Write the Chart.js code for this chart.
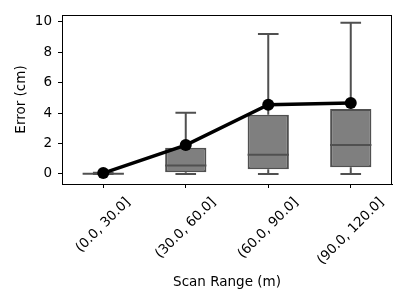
<!DOCTYPE html>
<html>
<head>
<meta charset="utf-8">
<script src="https://cdn.jsdelivr.net/npm/chart.js@4/dist/chart.umd.min.js"></script>
<style>
    body { margin: 0; background: #ffffff; }
    canvas { display: block; }
</style>
</head>
<body>
<canvas id="boxChart" width="407" height="305"></canvas>
<script>
// =====================================
// Data
// =====================================

const categories = ["(0.0, 30.0]", "(30.0, 60.0]", "(60.0, 90.0]", "(90.0, 120.0]"];

const whiskerLow = [0, 0, 0, 0];
const q1 = [0, 0.11, 0.31, 0.44];
const median = [0.02, 0.55, 1.27, 1.9];
const q3 = [0.06, 1.73, 3.89, 4.28];
const whiskerHigh = [0.08, 4.02, 9.21, 9.95];
const means = [0.06, 1.9, 4.56, 4.67];

const yTicks = [0, 2, 4, 6, 8, 10];

const FONT = "'DejaVu Sans', sans-serif";
const EDGE = "#505050";

// =====================================
// Box plot pieces drawn through the scales
// =====================================

const boxPlugin = {
    id: "boxParts",

    // whiskers sit under the boxes
    beforeDatasetsDraw(chart) {
        const ctx = chart.ctx;
        const x = chart.scales.x;
        const y = chart.scales.y;
        const meta = chart.getDatasetMeta(0);

        ctx.save();
        ctx.strokeStyle = EDGE;
        ctx.lineWidth = 2;

        categories.forEach((c, i) => {
            const px = x.getPixelForValue(i);
            const capHalf = meta.data[i].width / 4;

            ctx.beginPath();
            ctx.moveTo(px, y.getPixelForValue(q3[i]));
            ctx.lineTo(px, y.getPixelForValue(whiskerHigh[i]));
            ctx.moveTo(px, y.getPixelForValue(q1[i]));
            ctx.lineTo(px, y.getPixelForValue(whiskerLow[i]));

            ctx.moveTo(px - capHalf, y.getPixelForValue(whiskerHigh[i]));
            ctx.lineTo(px + capHalf, y.getPixelForValue(whiskerHigh[i]));
            ctx.moveTo(px - capHalf, y.getPixelForValue(whiskerLow[i]));
            ctx.lineTo(px + capHalf, y.getPixelForValue(whiskerLow[i]));
            ctx.stroke();
        });

        ctx.restore();
    },

    // medians go on top of the boxes, before the mean line
    afterDatasetDraw(chart, args) {
        if (args.index !== 0) return;

        const ctx = chart.ctx;
        const x = chart.scales.x;
        const y = chart.scales.y;
        const meta = chart.getDatasetMeta(0);

        ctx.save();
        ctx.strokeStyle = EDGE;
        ctx.lineWidth = 2;

        categories.forEach((c, i) => {
            const px = x.getPixelForValue(i);
            const half = meta.data[i].width / 2;
            const py = y.getPixelForValue(median[i]);

            ctx.beginPath();
            ctx.moveTo(px - half, py);
            ctx.lineTo(px + half, py);
            ctx.stroke();
        });

        ctx.restore();
    },

    afterDraw(chart) {
        const ctx = chart.ctx;
        const area = chart.chartArea;
        const x = chart.scales.x;

        ctx.save();

        // frame round the plot
        ctx.strokeStyle = "#000000";
        ctx.lineWidth = 1;
        ctx.strokeRect(area.left + 0.5, area.top + 0.5,
            area.right - area.left - 1, area.bottom - area.top);

        // rotated category labels, centred on their ticks
        ctx.font = "13.5px " + FONT;
        ctx.fillStyle = "#000000";
        ctx.textAlign = "center";
        ctx.textBaseline = "middle";

        const top = area.bottom + 11;

        categories.forEach((label, i) => {
            const px = x.getPixelForValue(i);
            const w = ctx.measureText(label).width;
            const h = (w + 15) * Math.SQRT1_2;

            ctx.save();
            ctx.translate(px, top + h / 2);
            ctx.rotate(-Math.PI / 4);
            ctx.fillText(label, 0, 0);
            ctx.restore();
        });

        ctx.restore();
    }
};

// =====================================
// Chart
// =====================================

const chart = new Chart(document.getElementById("boxChart"), {
    data: {
        labels: categories,
        datasets: [
            {
                type: "bar",
                data: categories.map((c, i) => [q1[i], q3[i]]),
                backgroundColor: "#7f7f7f",
                borderColor: EDGE,
                borderWidth: 2,
                borderSkipped: false,
                categoryPercentage: 1,
                barPercentage: 0.5,
                order: 2
            },
            {
                type: "line",
                data: means,
                borderColor: "#000000",
                backgroundColor: "#000000",
                borderWidth: 3.5,
                pointRadius: 6,
                pointBackgroundColor: "#000000",
                pointBorderWidth: 0,
                tension: 0,
                order: 1
            }
        ]
    },
    options: {
        responsive: false,
        animation: false,
        layout: {
            padding: { top: 15, right: 15, left: 0, bottom: 0 }
        },
        plugins: {
            legend: { display: false },
            tooltip: { enabled: false }
        },
        scales: {
            x: {
                offset: true,
                grid: {
                    display: true,
                    drawOnChartArea: false,
                    drawTicks: true,
                    tickLength: 4,
                    color: "#000000",
                    offset: false
                },
                border: { display: true, color: "#000000", width: 1 },
                ticks: { display: false },
                title: {
                    display: true,
                    text: "Scan Range (m)",
                    color: "#000000",
                    font: { family: FONT, size: 13.5 },
                    padding: { top: 0, bottom: 14 }
                },
                afterFit(scale) {
                    scale.height = 121;
                }
            },
            y: {
                min: -0.66,
                max: 10.46,
                afterBuildTicks(scale) {
                    scale.ticks = yTicks.map(v => ({ value: v }));
                },
                grid: {
                    display: true,
                    drawOnChartArea: false,
                    drawTicks: true,
                    tickLength: 4,
                    color: "#000000"
                },
                border: { display: true, color: "#000000", width: 1 },
                ticks: {
                    color: "#000000",
                    padding: 6,
                    font: { family: FONT, size: 13.5 }
                },
                title: {
                    display: true,
                    text: "Error (cm)",
                    color: "#000000",
                    font: { family: FONT, size: 13.5 },
                    padding: { top: 13, bottom: 0 }
                },
                afterFit(scale) {
                    scale.width = 62;
                }
            }
        }
    },
    plugins: [boxPlugin]
});
</script>
</body>
</html>
